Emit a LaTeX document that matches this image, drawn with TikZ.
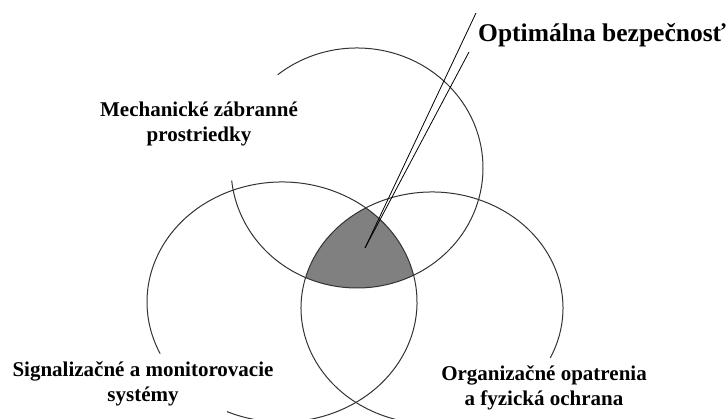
\documentclass[tikz,border=0pt]{standalone}
\usepackage{fontspec}
\setmainfont{Liberation Serif}

\begin{document}
\begin{tikzpicture}[x=1pt,y=1pt,
  ring/.style={draw=black!80,line width=1pt},
  tag/.style={font=\bfseries\fontsize{21}{25}\selectfont,align=center,inner sep=0pt}]
  \useasboundingbox (0,0) rectangle (726,419);
  \clip (0,0) rectangle (726,419);

  \coordinate (topc) at (357,251);
  \coordinate (leftc) at (282,117);
  \coordinate (rightc) at (432,111);

  \begin{scope}
    \clip (topc) ellipse [x radius=126pt, y radius=120pt];
    \clip (leftc) ellipse [x radius=135pt, y radius=120pt];
    \fill[gray] (rightc) ellipse [x radius=131pt, y radius=116pt];
  \end{scope}

  \draw[ring] (topc) ++(129:126pt and 120pt)
    arc[start angle=129, end angle=-174, x radius=126pt, y radius=120pt];
  \draw[ring] (leftc) ++(-114:135pt and 120pt)
    arc[start angle=-114, end angle=205.5, x radius=135pt, y radius=120pt];
  \draw[ring] (rightc) ++(-25.5:131pt and 116pt)
    arc[start angle=-25.5, end angle=270, x radius=131pt, y radius=116pt];

  \node[tag] (mech) at (199,295) {Mechanické zábranné\\prostriedky};
  \node[tag] (signal) at (143,35) {Signalizačné a monitorovacie\\systémy};
  \node[tag] (organ) at (544,31) {Organizačné opatrenia\\a fyzická ochrana};
  \node[tag,anchor=west,font=\bfseries\fontsize{25.5}{30}\selectfont]
    (optimum) at (478,384) {Optimálna bezpečnosť};

  \coordinate (spot) at (365,171);
  \coordinate (tipA) at (476,406);
  \coordinate (tipB) at (469,367);
  \draw[line width=0.8pt] (spot) -- (tipA);
  \draw[line width=0.8pt] (spot) -- (tipB);
\end{tikzpicture}
\end{document}
